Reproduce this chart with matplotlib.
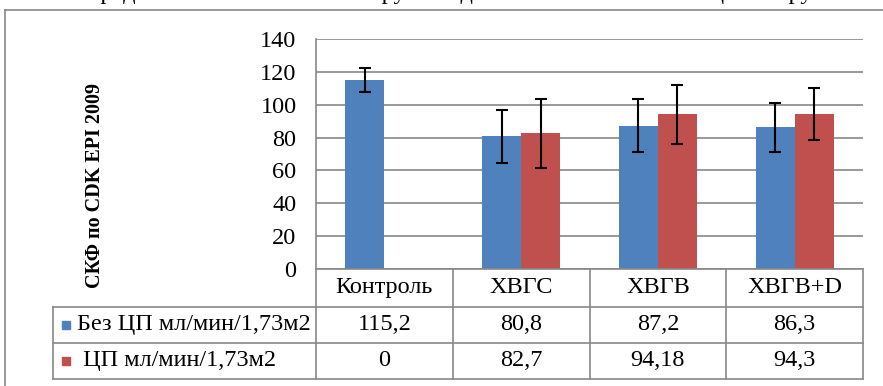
import numpy as np
import matplotlib.pyplot as plt
from matplotlib.lines import Line2D
from matplotlib.patches import Rectangle

# data
categories = ['Контроль', 'ХВГС', 'ХВГВ', 'ХВГВ+D']
series_names = ['Без ЦП мл/мин/1,73м2', ' ЦП мл/мин/1,73м2']
no_cp = [115.2, 80.8, 87.2, 86.3]
cp = [0, 82.7, 94.18, 94.3]
no_cp_err = [7.2, 16.0, 16.0, 15.0]
cp_err = [np.nan, 21.0, 18.0, 16.0]
no_cp_labels = ['115,2', '80,8', '87,2', '86,3']
cp_labels = ['0', '82,7', '94,18', '94,3']
yticks = [0, 20, 40, 60, 80, 100, 120, 140]

BLUE = '#4F81BD'
RED = '#C0504D'
GRID = '#888888'
W, H = 883, 386
FS = 17.5

plt.rcParams['font.family'] = ['Liberation Serif', 'DejaVu Serif']

fig = plt.figure(figsize=(W / 100, H / 100), dpi=100)


def fx(px):
    return px / W


def fy(py):
    return 1 - py / H


def hline(y, x0, x1, **kw):
    fig.add_artist(Line2D([fx(x0), fx(x1)], [fy(y), fy(y)], color=GRID, lw=1.2, **kw))


def vline(x, y0, y1, **kw):
    fig.add_artist(Line2D([fx(x), fx(x)], [fy(y0), fy(y1)], color=GRID, lw=1.2, **kw))


# plot area geometry (pixels)
left, right, top, zero = 316, 863, 39, 269
ax = fig.add_axes([fx(left), fy(zero), fx(right - left), (zero - top) / H])

x = np.arange(len(categories))
bw = 0.285
ax.bar(x - bw / 2, no_cp, bw, color=BLUE, zorder=2)
ax.bar(x + bw / 2, cp, bw, color=RED, zorder=2)
ekw = dict(fmt='none', ecolor='black', elinewidth=1.5, capsize=4.3, capthick=1.5, zorder=3)
ax.errorbar(x - bw / 2, no_cp, yerr=no_cp_err, **ekw)
ax.errorbar(x + bw / 2, cp, yerr=cp_err, **ekw)

ax.set_xlim(-0.5, len(categories) - 0.5)
ax.set_ylim(0, 140)
ax.set_yticks(yticks)
ax.set_yticklabels([str(t) for t in yticks], fontsize=FS)
ax.tick_params(axis='y', length=0, pad=14)
ax.set_xticks([])
ax.yaxis.grid(True, color=GRID, lw=1.2, zorder=0)
ax.set_axisbelow(True)
for s in ['top', 'right', 'bottom']:
    ax.spines[s].set_visible(False)
ax.spines['left'].set_color(GRID)
ax.spines['left'].set_linewidth(1.2)
ax.patch.set_alpha(0)

# y label
fig.text(fx(95), fy(186), 'СКФ по CDK EPI 2009', rotation=90, fontsize=14.5,
         fontweight='bold', ha='center', va='center')

# data table
row_y = [zero, 306.7, 342.7, 379]
col_x = [left + i * (right - left) / 4 for i in range(5)]
tab_left = 53
hline(zero, left, right)
for y in row_y[1:]:
    hline(y, tab_left, right)
for cx in col_x:
    vline(cx, zero, row_y[-1])
vline(tab_left, row_y[1], row_y[-1])

for i, cat in enumerate(categories):
    cx = (col_x[i] + col_x[i + 1]) / 2
    fig.text(fx(cx), fy((row_y[0] + row_y[1]) / 2), cat, fontsize=FS, ha='center', va='center')
    fig.text(fx(cx), fy((row_y[1] + row_y[2]) / 2), no_cp_labels[i], fontsize=FS, ha='center', va='center')
    fig.text(fx(cx), fy((row_y[2] + row_y[3]) / 2), cp_labels[i], fontsize=FS, ha='center', va='center')

for r, (name, col) in enumerate(zip(series_names, [BLUE, RED])):
    yc = (row_y[r + 1] + row_y[r + 2]) / 2
    fig.add_artist(Rectangle((fx(62), fy(yc + 4)), fx(8), 8 / H, color=col))
    fig.text(fx(77), fy(yc), name, fontsize=FS, ha='left', va='center')

# outer frame (left and top edges visible)
hline(10, 5, W + 5)
vline(5, 10, H + 5)

# caption above the frame, cut off by the top edge as in the source
fig.text(fx(410), fy(-1), 'Рисунок 2 – Средние показатели СКФ в группах детей в зависимости от ЦП по группам',
         fontsize=FS, ha='center', va='baseline')

fig.savefig('out.png', dpi=100)
